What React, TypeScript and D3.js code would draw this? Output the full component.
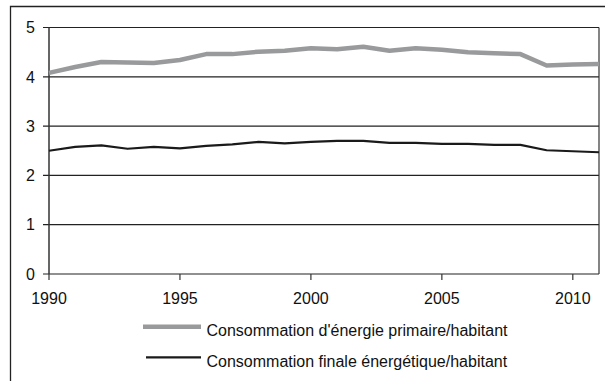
import React from "react";
import * as d3 from "d3";

const years = [1990, 1991, 1992, 1993, 1994, 1995, 1996, 1997, 1998, 1999, 2000, 2001, 2002, 2003, 2004, 2005, 2006, 2007, 2008, 2009, 2010, 2011];
const primaire = [4.08, 4.2, 4.3, 4.29, 4.28, 4.34, 4.46, 4.46, 4.51, 4.53, 4.58, 4.56, 4.61, 4.53, 4.58, 4.55, 4.5, 4.48, 4.46, 4.23, 4.25, 4.26];
const finale = [2.5, 2.58, 2.61, 2.54, 2.58, 2.55, 2.6, 2.63, 2.68, 2.65, 2.68, 2.7, 2.7, 2.66, 2.66, 2.64, 2.64, 2.62, 2.62, 2.51, 2.49, 2.47];
const yTicks = [0, 1, 2, 3, 4, 5];
const xTicks = [1990, 1995, 2000, 2005, 2010];
const legendLabels = ["Consommation d'énergie primaire/habitant", "Consommation finale énergétique/habitant"];

export default function App() {
  const W = 605, H = 381;
  const x = d3.scaleLinear().domain([1990, 2011]).range([49, 599]);
  const y = d3.scaleLinear().domain([0, 5]).range([274, 27.5]);
  const line = d3.line<number>().x((_, i) => x(years[i])).y((d) => y(d));
  const font = "'Liberation Sans', Arial, sans-serif";
  const fs = 16;
  return (
    <svg width={W} height={H} style={{ position: "absolute", left: 0, top: 0 }} fontFamily={font}>
      <rect x={0} y={0} width={W} height={H} fill="#fff" />
      <path d={`M10.5,${H} V6.5 H${W}`} fill="none" stroke="#222" strokeWidth={1.3} />
      {yTicks.map((t) => (
        <g key={t}>
          <line x1={43} x2={599} y1={y(t)} y2={y(t)} stroke="#222" strokeWidth={1.2} />
          <text x={35} y={y(t)} dy="0.36em" textAnchor="end" fontSize={fs} fill="#111">{t}</text>
        </g>
      ))}
      <line x1={599} x2={599} y1={y(5)} y2={y(0)} stroke="#333" strokeWidth={1.2} />
      <line x1={49} x2={49} y1={y(5)} y2={y(0)} stroke="#333" strokeWidth={1.5} />
      {xTicks.map((t) => (
        <g key={t}>
          <line x1={x(t)} x2={x(t)} y1={y(0)} y2={y(0) + 6} stroke="#333" strokeWidth={1.2} />
          <text x={x(t)} y={304} textAnchor="middle" fontSize={fs} fill="#111">{t}</text>
        </g>
      ))}
      <path d={line(primaire) || ""} fill="none" stroke="#999a9c" strokeWidth={4.5} strokeLinejoin="round" />
      <path d={line(finale) || ""} fill="none" stroke="#1a1a1a" strokeWidth={2.2} strokeLinejoin="round" />
      <line x1={143} x2={201} y1={326.7} y2={326.7} stroke="#999a9c" strokeWidth={4.5} />
      <text x={206.5} y={336} fontSize={fs} fill="#111">{legendLabels[0]}</text>
      <line x1={146} x2={201} y1={357.3} y2={357.3} stroke="#1a1a1a" strokeWidth={2.2} />
      <text x={206.5} y={366.5} fontSize={fs} fill="#111">{legendLabels[1]}</text>
    </svg>
  );
}
